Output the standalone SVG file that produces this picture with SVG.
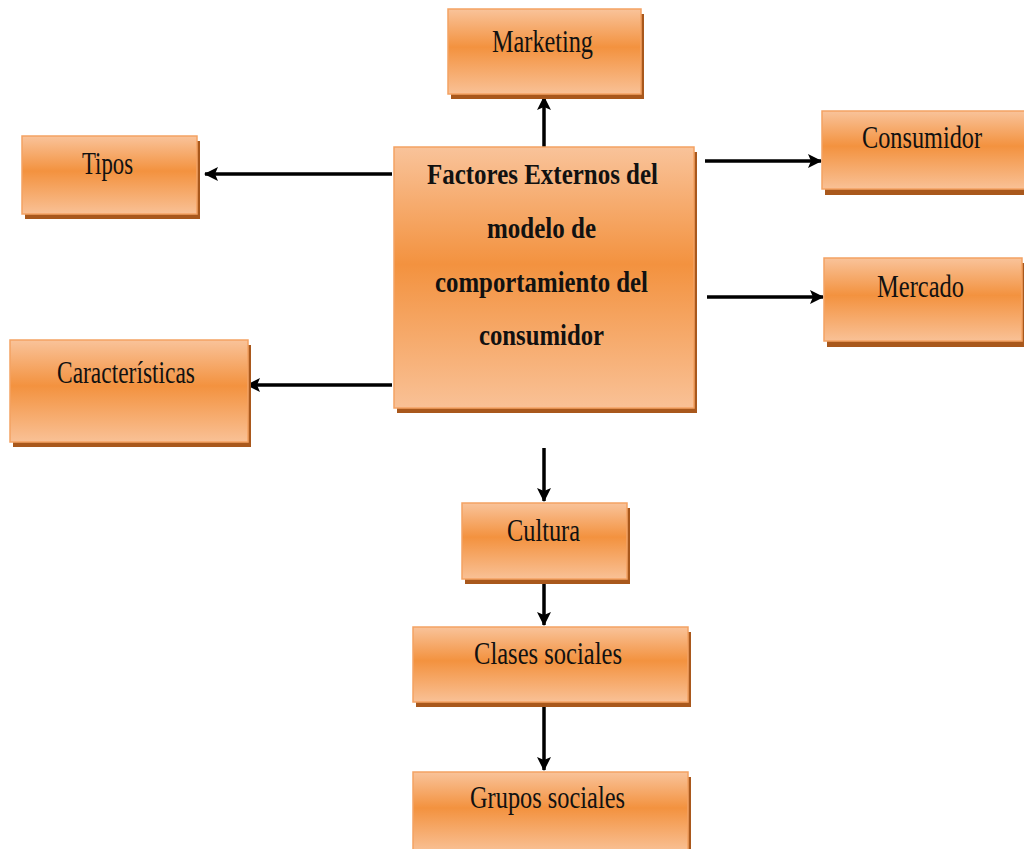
<svg xmlns="http://www.w3.org/2000/svg" width="1024" height="849" viewBox="0 0 1024 849">
<style>
.box{fill:url(#g);stroke:#f4a263;stroke-width:1.5}
.sh{fill:#a9581c}
.t{font-family:"Liberation Serif","Times New Roman",serif;font-size:31px;fill:#111;text-anchor:middle}
.b{font-family:"Liberation Serif","Times New Roman",serif;font-size:29px;font-weight:bold;fill:#111;text-anchor:middle}
.c{stroke:#000;stroke-width:3.5;fill:none;marker-end:url(#ah)}
</style>
<defs>
<linearGradient id="g" x1="0" y1="0" x2="0" y2="1">
<stop offset="0" stop-color="#f9c39a"/>
<stop offset="0.45" stop-color="#f3923f"/>
<stop offset="1" stop-color="#f9c196"/>
</linearGradient>
<marker id="ah" markerUnits="userSpaceOnUse" markerWidth="16" markerHeight="16" refX="13" refY="7" orient="auto">
<path d="M0,0 L14,7 L0,14 L3,7 Z" fill="#000"/>
</marker>
</defs>
<g id="connectors">
<line class="c" x1="544" y1="147" x2="544" y2="97"/>
<line class="c" x1="392" y1="174" x2="205" y2="174"/>
<line class="c" x1="392" y1="385" x2="247" y2="385"/>
<line class="c" x1="705" y1="161" x2="821" y2="161"/>
<line class="c" x1="707" y1="297" x2="823" y2="297"/>
<line class="c" x1="544" y1="448" x2="544" y2="501"/>
<line class="c" x1="544" y1="580" x2="544" y2="625"/>
<line class="c" x1="544" y1="703" x2="544" y2="770"/>
</g>
<g id="n-marketing">
<rect class="sh" x="451" y="14" width="193" height="85"/>
<rect class="box" x="448" y="9" width="193" height="85"/>
<text class="t" x="542.5" y="52" textLength="101" lengthAdjust="spacingAndGlyphs">Marketing</text>
</g>
<g id="n-factores">
<rect class="sh" x="397" y="152" width="300" height="261"/>
<rect class="box" x="394" y="147" width="300" height="261"/>
<text class="b" x="542.5" y="184" textLength="231" lengthAdjust="spacingAndGlyphs">Factores Externos del</text>
<text class="b" x="541.5" y="238" textLength="109" lengthAdjust="spacingAndGlyphs">modelo de</text>
<text class="b" x="541.5" y="292" textLength="213" lengthAdjust="spacingAndGlyphs">comportamiento del</text>
<text class="b" x="541.5" y="345" textLength="125" lengthAdjust="spacingAndGlyphs">consumidor</text>
</g>
<g id="n-tipos">
<rect class="sh" x="25" y="141" width="175" height="78"/>
<rect class="box" x="22" y="136" width="175" height="78"/>
<text class="t" x="107.5" y="174" textLength="51" lengthAdjust="spacingAndGlyphs">Tipos</text>
</g>
<g id="n-caracteristicas">
<rect class="sh" x="13" y="345" width="238" height="102"/>
<rect class="box" x="10" y="340" width="238" height="102"/>
<text class="t" x="126" y="383" textLength="138" lengthAdjust="spacingAndGlyphs">Características</text>
</g>
<g id="n-consumidor">
<rect class="sh" x="825" y="116" width="202" height="79"/>
<rect class="box" x="822" y="111" width="204" height="78"/>
<text class="t" x="922" y="148" textLength="120" lengthAdjust="spacingAndGlyphs">Consumidor</text>
</g>
<g id="n-mercado">
<rect class="sh" x="827" y="263" width="198" height="84"/>
<rect class="box" x="824" y="258" width="198" height="83"/>
<text class="t" x="920.5" y="297" textLength="87" lengthAdjust="spacingAndGlyphs">Mercado</text>
</g>
<g id="n-cultura">
<rect class="sh" x="465" y="508" width="165" height="76"/>
<rect class="box" x="462" y="503" width="165" height="76"/>
<text class="t" x="543.5" y="541" textLength="73" lengthAdjust="spacingAndGlyphs">Cultura</text>
</g>
<g id="n-clases">
<rect class="sh" x="416" y="632" width="275" height="75"/>
<rect class="box" x="413" y="627" width="275" height="75"/>
<text class="t" x="548" y="664" textLength="148" lengthAdjust="spacingAndGlyphs">Clases sociales</text>
</g>
<g id="n-grupos">
<rect class="sh" x="416" y="777" width="275" height="80"/>
<rect class="box" x="413" y="772" width="275" height="80"/>
<text class="t" x="547.5" y="808" textLength="155" lengthAdjust="spacingAndGlyphs">Grupos sociales</text>
</g>
</svg>
